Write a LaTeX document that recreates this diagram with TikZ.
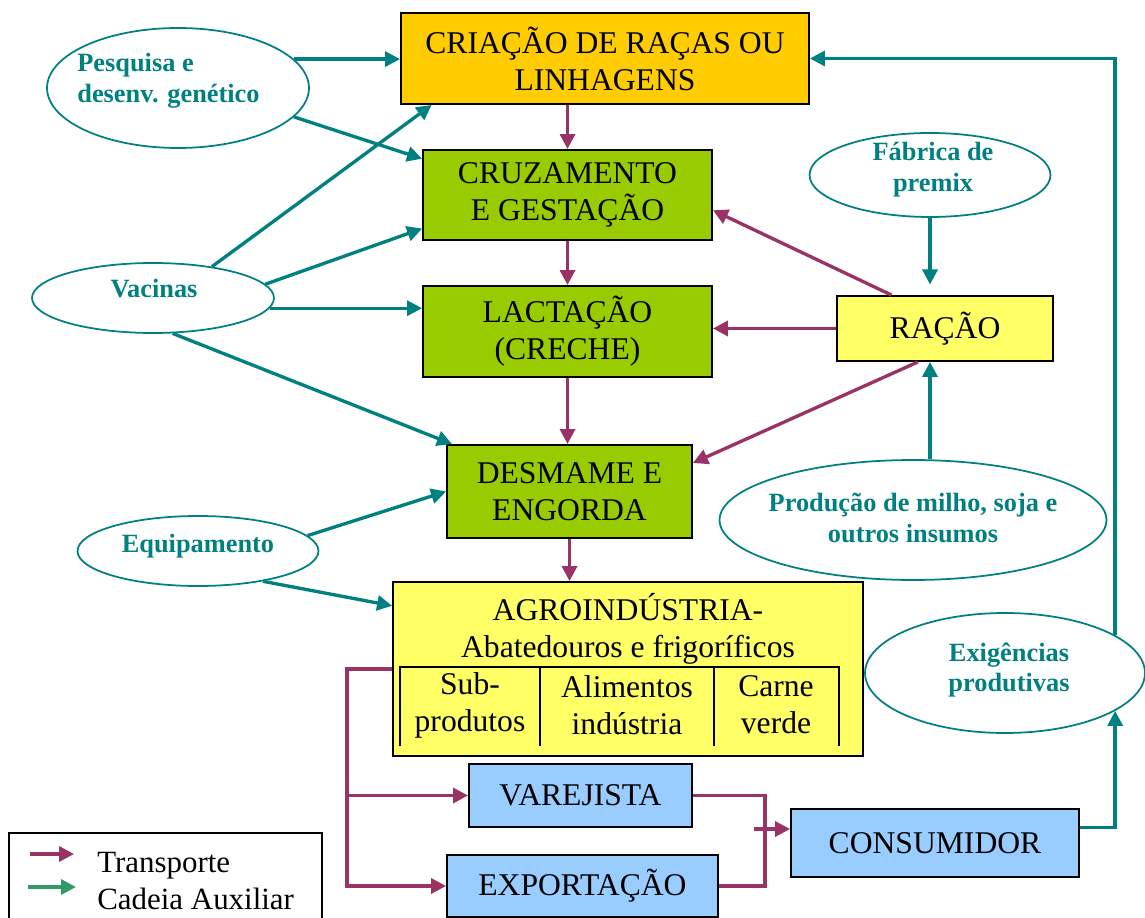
\documentclass[tikz,border=0pt]{standalone}
\usepackage{fontspec}
\setmainfont{Liberation Serif}
\usetikzlibrary{shapes.geometric,arrows.meta}
\definecolor{auxteal}{HTML}{008080}
\definecolor{transmag}{HTML}{993366}
\definecolor{legendgreen}{HTML}{339966}
\definecolor{boxorange}{HTML}{FFCC00}
\definecolor{boxgreen}{HTML}{99CC00}
\definecolor{boxyellow}{HTML}{FFFF66}
\definecolor{boxblue}{HTML}{99CCFF}
\tikzset{
  box text/.style={
    align=center, font=\fontsize{18}{21}\selectfont
  },
  stage box/.style={
    rectangle, draw=black, line width=1.1pt, inner sep=0pt, box text
  },
  side oval/.style={
    ellipse, draw=auxteal, line width=1pt, inner sep=0pt
  },
  oval text/.style={
    text=auxteal, align=center, font=\fontsize{15}{17.5}\selectfont\bfseries
  },
  transport line/.style={
    draw=transmag, line width=1.9pt
  },
  transport arrow/.style={
    transport line, -{Triangle[length=0.3cm, width=0.3cm]}
  },
  aux arrow/.style={
    draw=auxteal, line width=1.9pt, -{Triangle[length=0.3cm, width=0.3cm]}
  }
}

\begin{document}
\begin{tikzpicture}[x=0.02cm, y=-0.02cm]
\useasboundingbox (0,0) rectangle (1145,918);
\clip (0,0) rectangle (1145,918);

% ------------------------------------------------
% 主链：育种 -> 配种 -> 哺乳 -> 断奶育肥 -> 加工
% ------------------------------------------------
\node[stage box, fill=boxorange, minimum width=8.16cm, minimum height=1.82cm] (cri) at (605,58.5) {CRIAÇÃO DE RAÇAS OU\\LINHAGENS};
\node[stage box, fill=boxgreen, minimum width=5.78cm, minimum height=1.80cm] (cruz) at (567.5,195) {CRUZAMENTO\\E GESTAÇÃO};
\node[stage box, fill=boxgreen, minimum width=5.78cm, minimum height=1.82cm] (lac) at (567.5,331.5) {LACTAÇÃO\\(CRECHE)};
\node[stage box, fill=boxgreen, minimum width=4.90cm, minimum height=1.86cm] (des) at (569.5,491.5) {DESMAME E\\ENGORDA};
\node[stage box, fill=boxyellow, minimum width=9.40cm, minimum height=3.48cm] (agro) at (628,669) {};
\node[box text] (agroT) at (628,629) {AGROINDÚSTRIA-\\Abatedouros e frigoríficos};
\draw[line width=1.1pt] (400,746) -- (400,667) -- (839,667) -- (839,746);
\foreach \xx in {540,714}
  \draw[line width=1.1pt] (\xx,667) -- (\xx,746);
\node[box text] (sub)   at (470,705) {Sub-\\produtos};
\node[box text] (alim)  at (627,705) {Alimentos\\indústria};
\node[box text] (carne) at (776,705) {Carne\\verde};

% ------------------------------------------------
% 饲料与分销
% ------------------------------------------------
\node[stage box, fill=boxyellow, minimum width=4.32cm, minimum height=1.30cm] (rac) at (945,328.5) {RAÇÃO};
\node[stage box, fill=boxblue, minimum width=4.46cm, minimum height=1.26cm] (var) at (580.5,795.5) {VAREJISTA};
\node[stage box, fill=boxblue, minimum width=5.42cm, minimum height=1.24cm] (exp) at (582.5,886) {EXPORTAÇÃO};
\node[stage box, fill=boxblue, minimum width=5.76cm, minimum height=1.36cm] (con) at (935,843) {CONSUMIDOR};

% ------------------------------------------------
% 辅助链（椭圆）
% ------------------------------------------------
\node[side oval, minimum width=5.24cm, minimum height=2.40cm] (pq) at (178,88) {};
\node[oval text, align=left, anchor=west, inner sep=0pt] (pqT) at (77,81) {Pesquisa e\\desenv. genético};
\node[side oval, minimum width=4.84cm, minimum height=1.40cm] (vac) at (153,298) {};
\node[oval text] (vacT) at (154,289) {Vacinas};
\node[side oval, minimum width=4.82cm, minimum height=1.40cm] (eq) at (198,551) {};
\node[oval text] (eqT) at (198,546) {Equipamento};
\node[side oval, minimum width=4.82cm, minimum height=1.68cm] (fab) at (930,175) {};
\node[oval text] (fabT) at (933,170) {Fábrica de\\premix};
\node[side oval, minimum width=7.74cm, minimum height=2.40cm] (prod) at (913,520) {};
\node[oval text] (prodT) at (913,518) {Produção de milho, soja e\\outros insumos};
\node[side oval, minimum width=5.60cm, minimum height=2.40cm] (exg) at (1005,673) {};
\node[oval text] (exgT) at (1009,670) {Exigências\\produtivas};

% 运输箭头
\draw[transport arrow] (cruz.north |- cri.south) -- (cruz.north);
\draw[transport arrow] (cruz.south) -- (lac.north);
\draw[transport arrow] (lac.south) -- (lac.south |- des.north);
\draw[transport arrow] (des.south) -- (des.south |- agro.north);
\draw[transport arrow] (rac.148) -- (cruz.-6);
\draw[transport arrow] (rac.west) -- (rac.west -| lac.east);
\draw[transport arrow] (rac.231) -- (des.13);

\coordinate (split) at (347,795.5);
\draw[transport arrow] (agro.west) -| (split) |- (exp.west);
\draw[transport arrow] (split) -- (var.west);
\coordinate (merge) at (765,829);
\draw[transport line] (var.east) -| (merge) |- (exp.east);
\coordinate (mergeIn) at (754,829);
\draw[transport arrow] (mergeIn) -- (mergeIn -| con.west);

% 辅助箭头
\draw[aux arrow] (pq.14) -- (pq.14 -| cri.west);
\draw[aux arrow] (pq.-14) -- (cruz.166);
\draw[aux arrow] (vac.28) -- (cri.195);
\draw[aux arrow] (vac.7) -- (cruz.193);
\draw[aux arrow] (vac.-5) -- (vac.-5 -| lac.west);
\draw[aux arrow] (vac.-61) -- (des.158);
\draw[aux arrow] (eq.8) -- (des.west);
\draw[aux arrow] (eq.-25) -- (agro.165);
\draw[aux arrow, shorten >=6pt] (fab.south) -- (fab.south |- rac.north);
\draw[aux arrow] (prod.north -| fab.south) -- (fab.south |- rac.south);
\draw[aux arrow] (exg.19) |- (cri.east);
\draw[aux arrow] (con.6) -| (exg.-19);

% ------------------------------------------------
% 图例
% ------------------------------------------------
\node[draw=black, line width=1pt, inner sep=0pt, minimum width=6.26cm, minimum height=2cm] (legend) at (165.5,883) {};
\coordinate (lgT0) at (30,854);
\coordinate (lgT1) at (74,854);
\coordinate (lgA0) at (28,887);
\coordinate (lgA1) at (76,887);
\draw[transport arrow] (lgT0) -- (lgT1);
\draw[aux arrow, draw=legendgreen] (lgA0) -- (lgA1);
\node[anchor=base west, inner sep=0pt, font=\fontsize{17.6}{21}\selectfont] (lgT) at (97,872) {Transporte};
\node[anchor=base west, inner sep=0pt, font=\fontsize{17.6}{21}\selectfont] (lgA) at (97,909) {Cadeia Auxiliar};
\end{tikzpicture}
\end{document}
